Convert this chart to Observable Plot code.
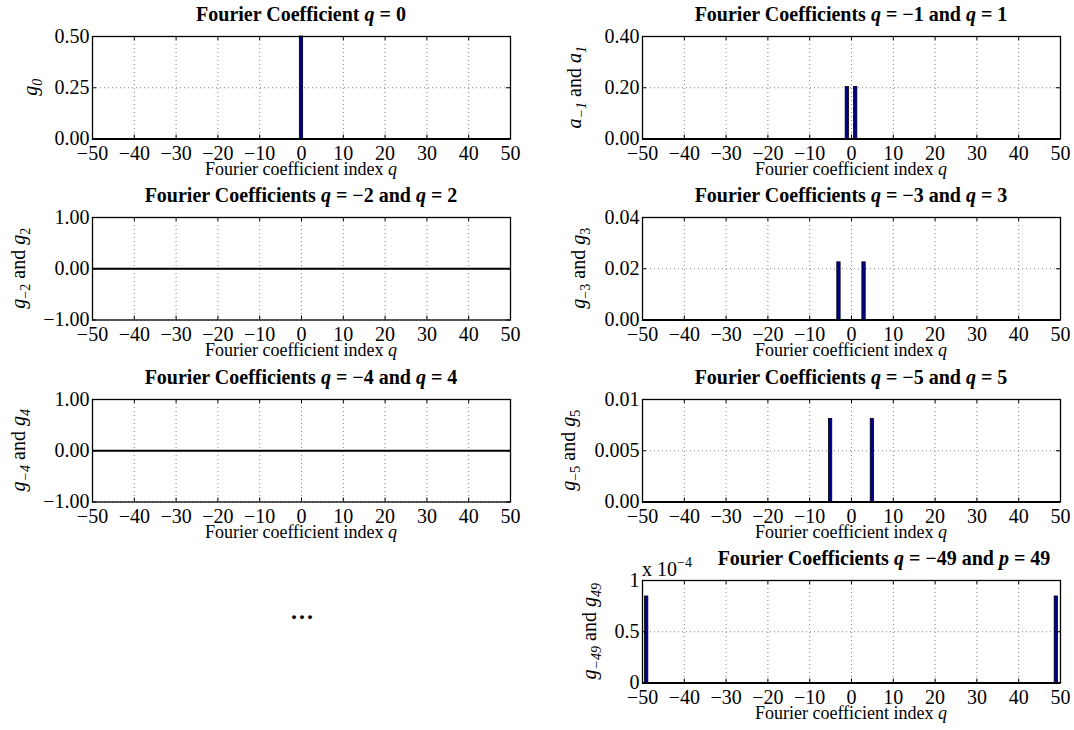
<!DOCTYPE html>
<html>
<head>
<meta charset="utf-8">
<script src="https://cdn.jsdelivr.net/npm/d3@7"></script>
<script src="https://cdn.jsdelivr.net/npm/@observablehq/plot@0.6"></script>
<style>
  html, body { margin: 0; padding: 0; background: #fff; }
  #fig { position: relative; width: 1074px; height: 730px; overflow: hidden;
         font-family: "Liberation Serif", "Times New Roman", serif; }
  #dots { position: absolute; left: 273px; top: 598px; width: 60px; text-align: center;
          font-weight: bold; font-size: 24px; letter-spacing: 2px; }
</style>
</head>
<body>
<div id="fig"><div id="dots">...</div></div>
<script>
// ---------------- data ----------------
const xTicks = [-50, -40, -30, -20, -10, 0, 10, 20, 30, 40, 50];
const xTickLabels = ["−50", "−40", "−30", "−20", "−10", "0", "10", "20", "30", "40", "50"];

// coefficient indices q and coefficient values per panel
const q0 = [0];          const g0 = [0.5];
const q1 = [-1, 1];      const a1 = [0.2026, 0.2026];
const q2 = [-2, 2];      const g2 = [0, 0];
const q3 = [-3, 3];      const g3 = [0.0225, 0.0225];
const q4 = [-4, 4];      const g4 = [0, 0];
const q5 = [-5, 5];      const g5 = [0.0081, 0.0081];
const q49 = [-49, 49];   const g49 = [0.0000844, 0.0000844];

// y ticks and their labels
const yTicks0 = [0, 0.25, 0.5];       const yLabels0 = ["0.00", "0.25", "0.50"];
const yTicks1 = [0, 0.2, 0.4];        const yLabels1 = ["0.00", "0.20", "0.40"];
const yTicks2 = [-1, 0, 1];           const yLabels2 = ["−1.00", "0.00", "1.00"];
const yTicks3 = [0, 0.02, 0.04];      const yLabels3 = ["0.00", "0.02", "0.04"];
const yTicks4 = [-1, 0, 1];           const yLabels4 = ["−1.00", "0.00", "1.00"];
const yTicks5 = [0, 0.005, 0.01];     const yLabels5 = ["0.00", "0.005", "0.01"];
const yTicks49 = [0, 0.00005, 0.0001]; const yLabels49 = ["0", "0.5", "1"];

// ---------------- layout ----------------
const FONT = '"Liberation Serif", "Times New Roman", serif';
const SW = 537, SH = 182, FW = 418, FH = 102.5, MT = 36;
const colLeft = [0, 537];
const colML = [92, 105];
const rowTop = [0, 181.4, 362.8, 544.2];

const panels = [
  {row: 0, col: 0, q: q0, v: g0, yd: [0, 0.5], yt: yTicks0, yl: yLabels0,
   title: [["Fourier Coefficient ", ""], ["q", "i"], [" = 0", ""]],
   ylab: [["g", "i"], ["0", "i_"]], ylx: -55.5, tdx: 0},
  {row: 0, col: 1, q: q1, v: a1, yd: [0, 0.4], yt: yTicks1, yl: yLabels1,
   title: [["Fourier Coefficients ", ""], ["q", "i"], [" = −1 and ", ""], ["q", "i"], [" = 1", ""]],
   ylab: [["a", "i"], ["−1", "i_"], [" and ", ""], ["a", "i"], ["1", "i_"]], ylx: -61.5, tdx: 0},
  {row: 1, col: 0, q: q2, v: g2, yd: [-1, 1], yt: yTicks2, yl: yLabels2,
   title: [["Fourier Coefficients ", ""], ["q", "i"], [" = −2 and ", ""], ["q", "i"], [" = 2", ""]],
   ylab: [["g", "i"], ["−2", "_"], [" and ", ""], ["g", "i"], ["2", "_"]], ylx: -67.5, tdx: 0},
  {row: 1, col: 1, q: q3, v: g3, yd: [0, 0.04], yt: yTicks3, yl: yLabels3,
   title: [["Fourier Coefficients ", ""], ["q", "i"], [" = −3 and ", ""], ["q", "i"], [" = 3", ""]],
   ylab: [["g", "i"], ["−3", "_"], [" and ", ""], ["g", "i"], ["3", "_"]], ylx: -57, tdx: 0},
  {row: 2, col: 0, q: q4, v: g4, yd: [-1, 1], yt: yTicks4, yl: yLabels4,
   title: [["Fourier Coefficients ", ""], ["q", "i"], [" = −4 and ", ""], ["q", "i"], [" = 4", ""]],
   ylab: [["g", "i"], ["−4", "i_"], [" and ", ""], ["g", "i"], ["4", "i_"]], ylx: -67.5, tdx: 0},
  {row: 2, col: 1, q: q5, v: g5, yd: [0, 0.01], yt: yTicks5, yl: yLabels5,
   title: [["Fourier Coefficients ", ""], ["q", "i"], [" = −5 and ", ""], ["q", "i"], [" = 5", ""]],
   ylab: [["g", "i"], ["−5", "_"], [" and ", ""], ["g", "i"], ["5", "_"]], ylx: -67.5, tdx: 0},
  {row: 3, col: 1, q: q49, v: g49, yd: [0, 0.0001], yt: yTicks49, yl: yLabels49,
   title: [["Fourier Coefficients ", ""], ["q", "i"], [" = −49 and ", ""], ["p", "i"], [" = 49", ""]],
   ylab: [["g", "i"], ["−49", "i_"], [" and ", ""], ["g", "i"], ["49", "i_"]], ylx: -46, tdx: 33,
   expo: true}
];

// rich text helper: style flags: i = italic, _ = subscript, ^ = superscript
function rich(textSel, segs, subSize, subShift, supShift) {
  let cur = 0;
  for (const [t, s] of segs) {
    const ts = textSel.append("tspan").text(t);
    const target = s.includes("_") ? subShift : s.includes("^") ? -supShift : 0;
    ts.attr("dy", target - cur);
    cur = target;
    if (s.includes("i")) ts.attr("font-style", "italic");
    if (s.includes("_") || s.includes("^")) ts.attr("font-size", subSize);
  }
}

const fig = document.getElementById("fig");
const gridStyle = {stroke: "#666", strokeOpacity: 1, strokeWidth: 0.8, strokeDasharray: "1,3"};

for (const p of panels) {
  const ml = colML[p.col];
  const data = p.q.map((q, i) => ({q, v: p.v[i]}));
  const chart = Plot.plot({
    width: SW, height: SH,
    marginLeft: ml, marginRight: SW - ml - FW,
    marginTop: MT, marginBottom: SH - MT - FH,
    style: {fontFamily: FONT, fontSize: "20px", color: "#000", background: "transparent", overflow: "visible"},
    x: {domain: [-50, 50]},
    y: {domain: p.yd},
    marks: [
      Plot.gridX(xTicks, gridStyle),
      Plot.gridY(p.yt, gridStyle),
      Plot.ruleY([0], {stroke: "#000", strokeWidth: 2}),
      Plot.rect(data, {x1: d => d.q - 0.4, x2: d => d.q + 0.4, y1: d => 0, y2: "v",
                       fill: "#00008f", stroke: "#000", strokeWidth: 0.8}),
      Plot.ruleX(xTicks, {x: d => d, insetTop: FH - 4, stroke: "#000"}),
      Plot.ruleX(xTicks, {x: d => d, insetBottom: FH - 4, stroke: "#000"}),
      Plot.ruleY(p.yt, {y: d => d, insetRight: FW - 4, stroke: "#000"}),
      Plot.ruleY(p.yt, {y: d => d, insetLeft: FW - 4, stroke: "#000"}),
      Plot.axisX(xTicks, {tickSize: 0, tickPadding: 7, fontSize: 20, label: null,
                          tickFormat: d => xTickLabels[xTicks.indexOf(d)]}),
      Plot.axisY(p.yt, {tickSize: 0, tickPadding: 3, fontSize: 20, label: null,
                        tickFormat: d => p.yl[p.yt.indexOf(d)]}),
      Plot.frame({stroke: "#000", strokeWidth: 1.3})
    ]
  });
  chart.style.position = "absolute";
  chart.style.left = colLeft[p.col] + "px";
  chart.style.top = rowTop[p.row] + "px";
  const svg = d3.select(chart);
  const cx = ml + FW / 2;

  // title
  const t = svg.append("text").attr("x", cx + p.tdx).attr("y", MT - 15)
    .attr("text-anchor", "middle").attr("font-size", 20).attr("font-weight", "bold")
    .attr("fill", "#000").attr("font-family", FONT);
  rich(t, p.title, 14, 5, 8);

  // x label
  const xl = svg.append("text").attr("x", cx).attr("y", MT + FH + 36)
    .attr("text-anchor", "middle").attr("font-size", 18)
    .attr("fill", "#000").attr("font-family", FONT);
  rich(xl, [["Fourier coefficient index ", ""], ["q", "i"]], 12, 4, 7);

  // y label
  const yl = svg.append("text")
    .attr("transform", `translate(${ml + p.ylx},${MT + FH / 2}) rotate(-90)`)
    .attr("text-anchor", "middle").attr("font-size", 20)
    .attr("fill", "#000").attr("font-family", FONT);
  rich(yl, p.ylab, 14, 5, 7);

  // exponent label
  if (p.expo) {
    const e = svg.append("text").attr("x", ml).attr("y", MT - 4)
      .attr("text-anchor", "start")
      .attr("font-size", 20).attr("fill", "#000").attr("font-family", FONT);
    rich(e, [["x 10", ""], ["−4", "^"]], 14, 0, 9);
  }
  fig.appendChild(chart);
}
</script>
</body>
</html>
